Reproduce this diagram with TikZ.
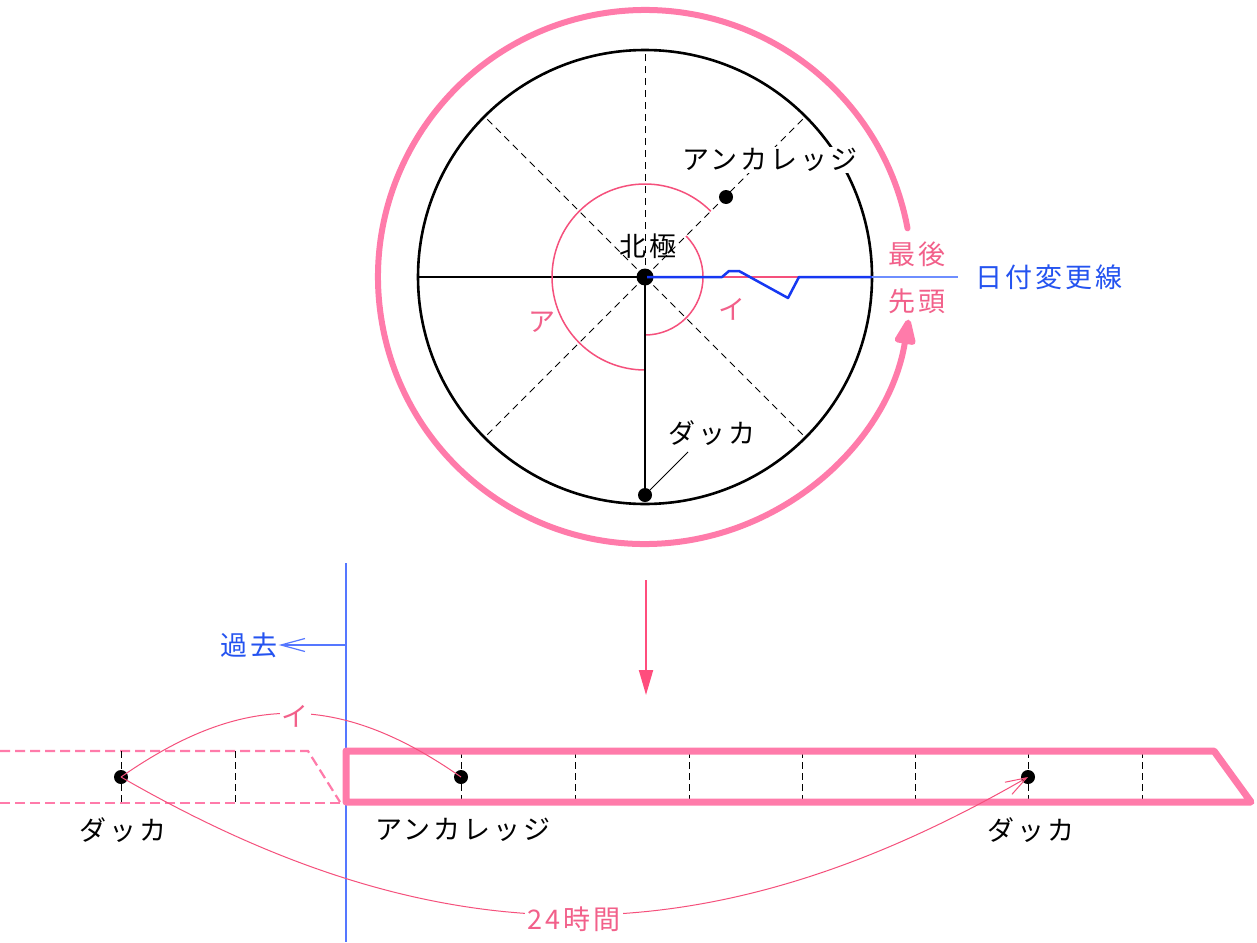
\documentclass[tikz,border=0pt]{standalone}
\usepackage{fontspec}
\newfontfamily\jp[LetterSpace=11]{Noto Sans CJK JP}
\usetikzlibrary{arrows.meta}
\definecolor{pinkT}{HTML}{FF7BAA}
\definecolor{pinkL}{HTML}{F5507C}
\definecolor{pinkX}{HTML}{F2608A}
\definecolor{pinkA}{HTML}{FF4D7D}
\definecolor{blueZ}{HTML}{1638F2}
\definecolor{blueL}{HTML}{6E8EFF}
\definecolor{blueV}{HTML}{5577FF}
\definecolor{blueX}{HTML}{2453F0}
\begin{document}
\begin{tikzpicture}[x=1pt,y=-1pt,
  lbl/.style={font=\jp\fontsize{27}{30}\selectfont, inner sep=1pt},
  dot/.style={circle,fill=black,inner sep=0pt,minimum size=14pt},
  bigdot/.style={circle,fill=black,inner sep=0pt,minimum size=17pt},
  thindash/.style={black,line width=0.9pt,dash pattern=on 7pt off 5pt},
  tickdash/.style={black,line width=1pt,dash pattern=on 7pt off 4pt},
  radius line/.style={black,line width=2.6pt},
  pinkdash/.style={pinkT,line width=2.2pt,dash pattern=on 10pt off 5pt},
  thinpink/.style={pinkL,line width=1pt}]
\useasboundingbox[fill=white] (0,0) rectangle (1257,942);

% ---------- circle diagram ----------
\coordinate (C) at (645,277);
\coordinate (W) at (418,277);
\coordinate (E) at (872,277);
\coordinate (N) at (645,50);
\coordinate (NE) at (805.5,116.5);
\coordinate (NW) at (484.5,116.5);
\coordinate (SE) at (805.5,437.5);
\coordinate (SW) at (484.5,437.5);
\coordinate (DL) at (958,277);

% big pink arc with arrow
\draw[pinkT,line width=6pt,line cap=round,-{Triangle[length=30pt,width=22pt,round]}]
  (C) ++(-10.5:267) arc[start angle=-10.5,end angle=-350.8,radius=267];

% dashed spokes
\draw[thindash] (C) -- (N);
\draw[thindash] (C) -- (NE);
\draw[thindash] (C) -- (NW);
\draw[thindash] (C) -- (SE);
\draw[thindash] (C) -- (SW);

% black circle
\draw[black,line width=2.6pt] (C) circle[radius=227];

% solid radii
\draw[radius line] (W) -- (C);
\draw[radius line] (C) -- (E);

% pink arcs
\draw[thinpink,line width=1.5pt] (C) ++(-45:93) arc[start angle=-45,end angle=-270,radius=93];
\draw[thinpink,line width=1.5pt] (C) ++(-45:58) arc[start angle=-45,end angle=90,radius=58];
\draw[pinkL,line width=2.5pt] (C) -- (798,277);

% dots
\node[dot] (dT) at (645,495) {};
\draw[radius line] (C) -- (dT.center);
\node[dot] (aT) at (726,197) {};
\node[bigdot] (c) at (C) {};

% date line
\draw[blueZ,line width=2.5pt,line join=round]
  (647,277) -- (722,277) -- (729,271) -- (739,271) -- (788,298) -- (799,277) -- (E);
\draw[blueL,line width=1.5pt] (E) -- (DL);

% labels in circle
\node[lbl,fill=white] (anchT) at (770,160) {アンカレッジ};
\node[lbl] (hok) at (648,246) {北極};
\node[lbl,text=pinkX] (la) at (542,322) {ア};
\node[lbl,text=pinkX] (li) at (732,309) {イ};
\node[lbl] (dakT) at (712,433) {ダッカ};
\coordinate (ldr) at (688,452);
\draw[black,line width=0.8pt] (ldr) -- (dT);
\node[lbl,text=pinkX] (saigo) at (917,254) {最後};
\node[lbl,text=pinkX] (sento) at (917,301) {先頭};
\node[lbl,text=blueX] (hiz) at (1049,277) {日付変更線};

% ---------- down arrow ----------
\coordinate (arA) at (646,580);
\coordinate (arB) at (646,695);
\draw[pinkA,line width=2pt,-{Triangle[length=25pt,width=14pt]}] (arA) -- (arB);

% ---------- bottom strip ----------
\coordinate (vT) at (346,563);
\coordinate (vB) at (346,942);
\coordinate (vK) at (346,645);
\node[lbl,text=blueX] (kako) at (249,645) {過去};
\draw[blueV,line width=2pt] (vT) -- (vB);
\draw[blueV,line width=1.2pt,-{Straight Barb[length=24pt,width=13pt]}] (vK) -- (kako.east);

% dashed past strip
\draw[pinkdash] (0,751) -- (308,751) -- (340,802);
\draw[pinkdash] (0,803) -- (340,803);

% ticks
\foreach \x in {121,235,461,575,689,802,915,1028,1142}
  \draw[tickdash] (\x,751) -- (\x,803);

% thick strip
\draw[pinkT,line width=7pt,line join=round]
  (346,751) -- (1214,751) -- (1251,802) -- (346,802) -- cycle;

% dots
\node[dot] (d1) at (121,777) {};
\node[dot] (a1) at (461,777) {};
\node[dot] (d2) at (1028,777) {};

% curves
\draw[thinpink] (d1.center) .. controls (243,692) and (339,692) .. (a1.center);
\node[lbl,text=pinkX,fill=white,inner sep=2pt] (ib) at (295,716) {イ};
\draw[thinpink,-{Straight Barb[length=21pt,width=14pt]}]
  (d1.center) .. controls (440,961) and (709,961) .. (d2.center);
\node[lbl,text=pinkX,fill=white,inner sep=3pt] (h24) at (574,919) {24時間};

% bottom labels
\node[lbl] (dakL) at (123,830) {ダッカ};
\node[lbl] (anchB) at (463,830) {アンカレッジ};
\node[lbl] (dakR) at (1031,830) {ダッカ};
\end{tikzpicture}
\end{document}
